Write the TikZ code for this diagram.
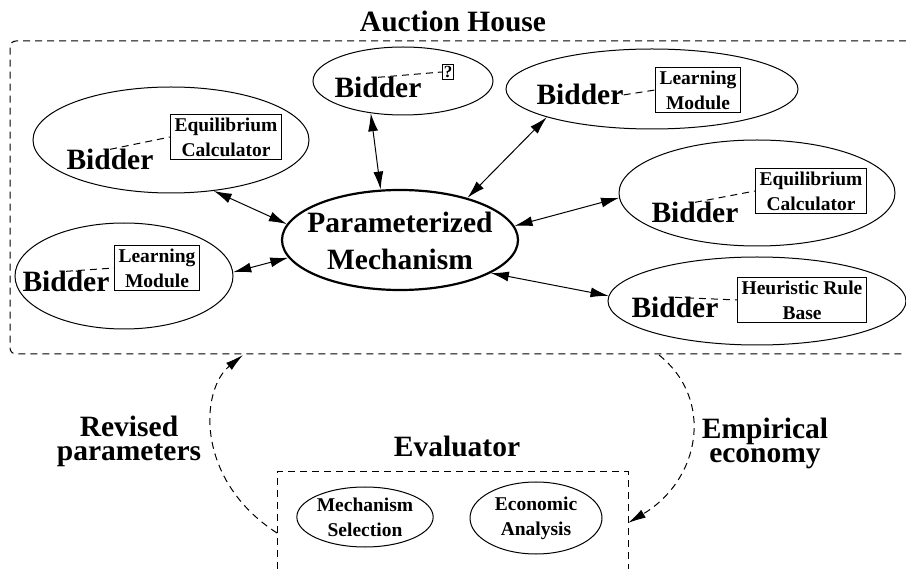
\documentclass[tikz,border=0pt]{standalone}
\usepackage{fontspec}
\setmainfont{Liberation Serif}
\usetikzlibrary{shapes.geometric,arrows.meta}
\newcommand{\bigtxt}{\fontsize{29.5}{24}\selectfont\bfseries}
\newcommand{\midtxt}{\fontsize{29.5}{37}\selectfont\bfseries}
\newcommand{\smalltxt}{\fontsize{19.5}{25}\selectfont\bfseries}
\tikzset{
  bidder/.style={draw, ellipse, inner sep=0pt, line width=1pt},
  modbox/.style={draw, line width=1pt, align=center, inner xsep=4pt, inner ysep=3pt, font=\smalltxt},
  bidtxt/.style={inner sep=0pt, anchor=base, font=\bigtxt},
  link/.style={dash pattern=on 7pt off 5pt, line width=1pt},
  dbl/.style={<->, >={Latex[length=18pt,width=10pt]}, line width=1pt},
}

\begin{document}
\begin{tikzpicture}[x=1pt, y=-1pt]
    \useasboundingbox (0,0) rectangle (906,569);
    \node[bidtxt] (ahtitle) at (453,32) {Auction House};
    \draw[link, rounded corners=6pt] (906,41) -- (10,41) -- (10,354) -- (906,354);

    \node[bidder, minimum width=276, minimum height=106] (b1) at (171,140) {};
    \node[bidder, minimum width=180, minimum height=68] (b2) at (403,81) {};
    \node[bidder, minimum width=292, minimum height=80] (b3) at (652,89) {};
    \node[bidder, minimum width=276, minimum height=106] (b4) at (757,193) {};
    \node[bidder, minimum width=298, minimum height=88] (b5) at (757,301) {};
    \node[bidder, minimum width=218, minimum height=106] (b6) at (124,276) {};
    \node[bidder, line width=2.2pt, minimum width=236, minimum height=100] (mech) at (400,240) {};
    \node[align=center, font=\midtxt, inner sep=0pt] (mechtxt) at (400,241) {Parameterized\\Mechanism};

    \node[bidtxt] (t1) at (110,170) {Bidder};
    \node[bidtxt] (t2) at (378,98) {Bidder};
    \node[bidtxt] (t3) at (580,105) {Bidder};
    \node[bidtxt] (t4) at (695,223) {Bidder};
    \node[bidtxt] (t5) at (675,318) {Bidder};
    \node[bidtxt] (t6) at (66,292) {Bidder};

    \node[modbox] (m1) at (226,137) {Equilibrium\\Calculator};
    \node[modbox, inner sep=1.5pt, font=\fontsize{17}{20}\selectfont\bfseries] (m2) at (448,72) {?};
    \node[modbox] (m3) at (698,90) {Learning\\Module};
    \node[modbox] (m4) at (811,191) {Equilibrium\\Calculator};
    \node[modbox] (m5) at (802,300) {Heuristic Rule\\Base};
    \node[modbox] (m6) at (157,268) {Learning\\Module};

    \draw[link] (t1.north) -- (m1.west);
    \draw[link] (t2.north) -- (m2.west);
    \draw[link] (t3.east) -- (m3.west);
    \draw[link] (t4.north) -- (m4.west);
    \draw[link] (t5.north) -- (m5.west);
    \draw[link] (t6.north) -- (m6.west);

    \draw[dbl] (b1.310) -- (mech.172);
    \draw[dbl] (b2.225) -- (mech.111);
    \draw[dbl] (b3.195) -- (mech.32);
    \draw[dbl] (b4.182) -- (mech.7);
    \draw[dbl] (b5.178) -- (mech.340);
    \draw[dbl] (b6.2) -- (mech.189);

    \node[bidtxt] (evtitle) at (457,457) {Evaluator};
    \draw[link] (277,569) -- (277,472) -- (628,472) -- (628,569);
    \node[bidder, font=\smalltxt, align=center, minimum width=136, minimum height=60] (msel) at (365,517) {Mechanism\\Selection};
    \node[bidder, font=\smalltxt, align=center, minimum width=132, minimum height=72] (econ) at (536,518) {Economic\\Analysis};

    \coordinate (evleft) at (277,533);
    \coordinate (evright) at (628,523);
    \coordinate (ahleft) at (243,355);
    \coordinate (ahright) at (659,355);
    \draw[link, ->, >={Latex[length=18pt,width=9pt]}] (evleft) .. controls (195,480) and (200,390) .. (ahleft);
    \draw[link, ->, >={Latex[length=18pt,width=9pt]}] (ahright) .. controls (715,400) and (700,480) .. (evright);
    \node[align=center, font=\bigtxt, inner sep=0pt] (revised) at (129,441) {Revised\\parameters};
    \node[align=center, font=\bigtxt, inner sep=0pt] (empirical) at (765,443) {Empirical\\economy};
  \end{tikzpicture}
\end{document}
